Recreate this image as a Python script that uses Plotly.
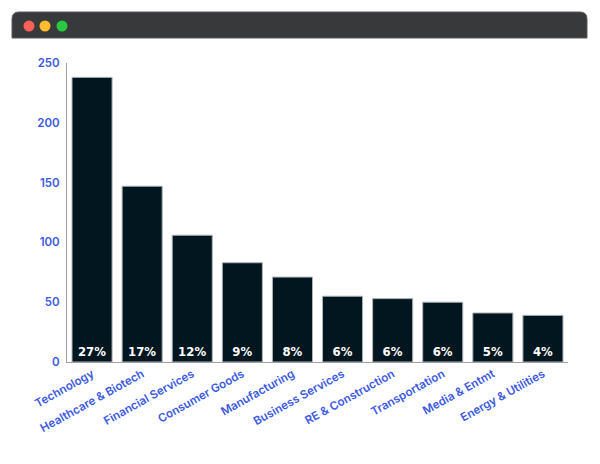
import plotly.graph_objects as go

# sector counts
sectors = ['Technology', 'Healthcare & Biotech', 'Financial Services', 'Consumer Goods',
           'Manufacturing', 'Business Services', 'RE & Construction', 'Transportation',
           'Media & Entmt', 'Energy & Utilities']
counts = [238, 147, 106, 83, 71, 55, 53, 50, 41, 39]
shares = ['27%', '17%', '12%', '9%', '8%', '6%', '6%', '6%', '5%', '4%']

W, H = 600, 464
OFF = 8  # page body margin
BLUE = '#3a58e0'


def px_x(v):
    return (v - OFF) / W


def px_y(v):
    return 1 - (v - OFF) / H


fig = go.Figure()
fig.add_trace(go.Bar(
    x=sectors,
    y=counts,
    text=shares,
    textposition='inside',
    insidetextanchor='start',
    textangle=0,
    textfont=dict(family='DejaVu Sans Condensed, Roboto Condensed, DejaVu Sans, sans-serif',
                  size=13, color='white', weight='bold'),
    marker=dict(color='#021620', line=dict(color='#b0b4b8', width=1)),
    hoverinfo='x+y',
))

# window title bar with rounded top corners
x0, x1, y0, y1, r = px_x(12), px_x(587), px_y(12), px_y(38), 7
rx, ry = r / W, r / H
bar_path = (f'M {x0},{y1} L {x0},{y0 - ry} Q {x0},{y0} {x0 + rx},{y0} '
            f'L {x1 - rx},{y0} Q {x1},{y0} {x1},{y0 - ry} L {x1},{y1} Z')
shapes = [dict(type='path', xref='paper', yref='paper', path=bar_path,
               fillcolor='#38393b', line=dict(color='#5a5b5d', width=1), layer='below')]
for cx, col in [(29, '#fe5f57'), (45, '#febc2e'), (62, '#28c840')]:
    shapes.append(dict(type='circle', xref='paper', yref='paper',
                       x0=px_x(cx - 5.5), x1=px_x(cx + 5.5), y0=px_y(31.5), y1=px_y(20.5),
                       fillcolor=col, line=dict(width=0)))

fig.update_layout(
    width=W, height=H,
    margin=dict(l=0, r=0, t=0, b=0),
    paper_bgcolor='white',
    plot_bgcolor='white',
    bargap=0.2,
    showlegend=False,
    shapes=shapes,
    font=dict(family='Inter', color=BLUE),
    xaxis=dict(
        domain=[px_x(67), px_x(568)],
        tickangle=-29,
        tickfont=dict(family='Inter', size=11.5, color=BLUE, weight=600),
        showline=True, linecolor='#a0a0a0', linewidth=1,
        showgrid=False, ticks='', automargin=False,
    ),
    yaxis=dict(
        domain=[px_y(362), px_y(63)],
        range=[0, 250], dtick=50,
        tickfont=dict(family='Inter', size=11.5, color=BLUE, weight=600),
        showline=True, linecolor='#a0a0a0', linewidth=1,
        showgrid=False, zeroline=False, ticks='', automargin=False,
        ticklabelstandoff=4,
    ),
)

fig.write_html('out.html')
